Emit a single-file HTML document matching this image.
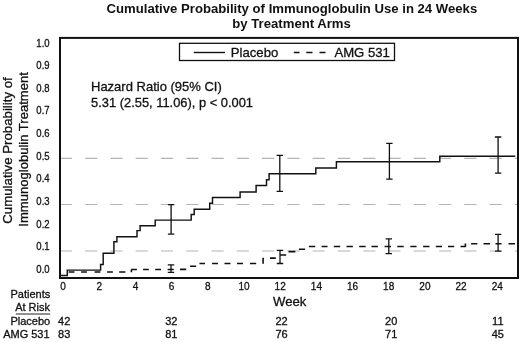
<!DOCTYPE html>
<html><head><meta charset="utf-8"><title>Cumulative Probability of Immunoglobulin Use</title>
<style>
html,body{margin:0;padding:0;background:#fff}
svg{display:block;will-change:transform;font-family:"Liberation Sans",sans-serif;fill:#111}
</style></head><body>
<svg width="520" height="342" viewBox="0 0 520 342">
<rect width="520" height="342" fill="#fff"/>
<g font-weight="bold" font-size="13.15" text-anchor="middle">
<text x="291.9" y="12.6">Cumulative Probability of Immunoglobulin Use in 24 Weeks</text>
<text x="291.6" y="28.4">by Treatment Arms</text>
</g>
<path d="M59.8 158.4H72.0M85.1 158.4H97.3M110.4 158.4H122.6M135.6 158.4H147.8M160.9 158.4H173.1M186.2 158.4H198.4M211.5 158.4H223.7M236.8 158.4H249.0M262.0 158.4H274.2M287.3 158.4H299.5M312.6 158.4H324.8M337.9 158.4H350.1M363.2 158.4H375.4M388.4 158.4H400.6M413.7 158.4H425.9M439.0 158.4H451.2M464.3 158.4H476.5M489.6 158.4H501.8M514.8 158.4H517.0M59.8 204.5H72.0M85.1 204.5H97.3M110.4 204.5H122.6M135.6 204.5H147.8M160.9 204.5H173.1M186.2 204.5H198.4M211.5 204.5H223.7M236.8 204.5H249.0M262.0 204.5H274.2M287.3 204.5H299.5M312.6 204.5H324.8M337.9 204.5H350.1M363.2 204.5H375.4M388.4 204.5H400.6M413.7 204.5H425.9M439.0 204.5H451.2M464.3 204.5H476.5M489.6 204.5H501.8M514.8 204.5H517.0M59.8 251.0H72.0M85.1 251.0H97.3M110.4 251.0H122.6M135.6 251.0H147.8M160.9 251.0H173.1M186.2 251.0H198.4M211.5 251.0H223.7M236.8 251.0H249.0M262.0 251.0H274.2M287.3 251.0H299.5M312.6 251.0H324.8M337.9 251.0H350.1M363.2 251.0H375.4M388.4 251.0H400.6M413.7 251.0H425.9M439.0 251.0H451.2M464.3 251.0H476.5M489.6 251.0H501.8M514.8 251.0H517.0" stroke="#b4b4b4" stroke-width="1.15" fill="none"/>
<rect x="60" y="37.9" width="458" height="240.1" fill="none" stroke="#111" stroke-width="2"/>
<rect x="179.5" y="43.3" width="215" height="17.2" fill="#fff" stroke="#111" stroke-width="1.3"/>
<path d="M193.8 52.5H225" stroke="#111" stroke-width="1.4"/>
<path d="M293.8 52.5H299.5M306.3 52.5H312.5M319.5 52.5H325.5" stroke="#111" stroke-width="1.5"/>
<g font-size="13.15" stroke="#111" stroke-width="0.3">
<text x="230.8" y="57.1">Placebo</text>
<text x="334.4" y="57.1">AMG 531</text>
<text x="91" y="90.7" font-size="13">Hazard Ratio (95% CI)</text>
<text x="91.1" y="107" font-size="12.88">5.31 (2.55, 11.06), p &lt; 0.001</text>
<text x="273" y="305.5">Week</text>
<text transform="translate(12.4 150.5) rotate(-90)" text-anchor="middle" font-size="13.25">Cumulative Probability of</text>
<text transform="translate(28.4 149.4) rotate(-90)" text-anchor="middle" font-size="13.05">Immunoglobulin Treatment</text>
</g>
<path d="M61 275.5H67.3V270.1H100.6V264.4H103.2V253.2H113.9V241.7H116.9V236.7H137V230.6H140.1V225.7H155.2V220.1H191.2V214.4H194.2V209.2H209.7V203.2H212.5V197.4H240.1V191.9H256.1V185.4H266.5V179.8H269.1V173.7H315.8V167.9H336.4V161.7H439.8V156.2H515.3" stroke="#111" stroke-width="1.45" fill="none" stroke-linejoin="miter"/>
<path d="M68.7 272H74.4M81.2 272H86.9M94.6 272H100.4M107.1 272H112.9M119.2 272H125.4M131.2 269.5H136.9M143.1 269.5H148.8M155.2 269.5H161M167.6 269.5H173.8M180 269.4H186.2M190 266.3H196.2M199.5 263.5H205M212 263.5H218M224.5 263.5H230.5M237 263.5H243M250 263.5H256.2M270 258.1H275.8M280 255H286.2M288.5 251.6H295.4M298.9 249.3H305.1M308.9 246.5H315.2M321.6 246.5H327.5M333.8 246.5H340.2M346.5 246.5H352.9M359.2 246.5H365.6M371.5 246.5H377.9M384.6 246.5H391M397.3 246.5H403.7M410.4 246.5H416.6M423.1 246.5H429.5M435.8 246.5H442M448 246.5H454.2M460.5 246.5H465.8M471.1 243.8H477.3M483.5 243.8H490M495.5 243.8H501.5M508.5 243.8H515M131.4 272.3V269.5M263.1 257.8V263.8M465.4 246.8V243.6" stroke="#111" stroke-width="1.6" fill="none"/>
<path d="M171.1 204.7V234.2M167.9 204.7H174.29999999999998M167.9 234.2H174.29999999999998M279.8 155.3V191.4M276.6 155.3H283.0M276.6 191.4H283.0M389.4 143.4V179.2M386.2 143.4H392.59999999999997M386.2 179.2H392.59999999999997M498.1 137V173.2M494.90000000000003 137H501.3M494.90000000000003 173.2H501.3M171 264.8V272.4M167.8 264.8H174.2M167.8 272.4H174.2M280 250.4V263.5M276.8 250.4H283.2M276.8 263.5H283.2M388.8 238.8V253.6M385.6 238.8H392.0M385.6 253.6H392.0M498.1 234.3V251.2M494.90000000000003 234.3H501.3M494.90000000000003 251.2H501.3" stroke="#111" stroke-width="1.3" fill="none"/>
<g font-size="11.05" stroke="#111" stroke-width="0.3"><text transform="translate(49.6 46.5) scale(0.9 1)" text-anchor="end" font-size="10.6">1.0</text><text transform="translate(49.6 69.1) scale(0.9 1)" text-anchor="end" font-size="10.6">0.9</text><text transform="translate(49.6 91.8) scale(0.9 1)" text-anchor="end" font-size="10.6">0.8</text><text transform="translate(49.6 114.4) scale(0.9 1)" text-anchor="end" font-size="10.6">0.7</text><text transform="translate(49.6 137.1) scale(0.9 1)" text-anchor="end" font-size="10.6">0.6</text><text transform="translate(49.6 159.7) scale(0.9 1)" text-anchor="end" font-size="10.6">0.5</text><text transform="translate(49.6 182.3) scale(0.9 1)" text-anchor="end" font-size="10.6">0.4</text><text transform="translate(49.6 205.0) scale(0.9 1)" text-anchor="end" font-size="10.6">0.3</text><text transform="translate(49.6 227.6) scale(0.9 1)" text-anchor="end" font-size="10.6">0.2</text><text transform="translate(49.6 250.3) scale(0.9 1)" text-anchor="end" font-size="10.6">0.1</text><text transform="translate(49.6 272.9) scale(0.9 1)" text-anchor="end" font-size="10.6">0.0</text><text transform="translate(63.1 290.45) scale(0.91 1)" text-anchor="middle">0</text><text transform="translate(99.3 290.45) scale(0.91 1)" text-anchor="middle">2</text><text transform="translate(135.5 290.45) scale(0.91 1)" text-anchor="middle">4</text><text transform="translate(171.6 290.45) scale(0.91 1)" text-anchor="middle">6</text><text transform="translate(207.8 290.45) scale(0.91 1)" text-anchor="middle">8</text><text transform="translate(244.0 290.45) scale(0.91 1)" text-anchor="middle">10</text><text transform="translate(280.2 290.45) scale(0.91 1)" text-anchor="middle">12</text><text transform="translate(316.4 290.45) scale(0.91 1)" text-anchor="middle">14</text><text transform="translate(352.5 290.45) scale(0.91 1)" text-anchor="middle">16</text><text transform="translate(388.7 290.45) scale(0.91 1)" text-anchor="middle">18</text><text transform="translate(424.9 290.45) scale(0.91 1)" text-anchor="middle">20</text><text transform="translate(461.1 290.45) scale(0.91 1)" text-anchor="middle">22</text><text transform="translate(497.3 290.45) scale(0.91 1)" text-anchor="middle">24</text></g>
<g font-size="11" stroke="#111" stroke-width="0.3">
<text x="50.2" y="298.3" text-anchor="end">Patients</text>
<text x="50" y="311.3" text-anchor="end">At Risk</text>
<text x="50.2" y="325.4" text-anchor="end">Placebo</text>
<text x="49.6" y="338.2" text-anchor="end">AMG 531</text>
<text x="64.2" y="325.3" text-anchor="middle">42</text><text x="64.2" y="338.3" text-anchor="middle">83</text><text x="171.3" y="325.3" text-anchor="middle">32</text><text x="171.3" y="338.3" text-anchor="middle">81</text><text x="281.5" y="325.3" text-anchor="middle">22</text><text x="281.5" y="338.3" text-anchor="middle">76</text><text x="391.2" y="325.3" text-anchor="middle">20</text><text x="391.2" y="338.3" text-anchor="middle">71</text><text x="497.8" y="325.3" text-anchor="middle">11</text><text x="497.8" y="338.3" text-anchor="middle">45</text>
</g>
<path d="M15.8 314H50.2" stroke="#222" stroke-width="1.1"/>
</svg>
</body></html>
